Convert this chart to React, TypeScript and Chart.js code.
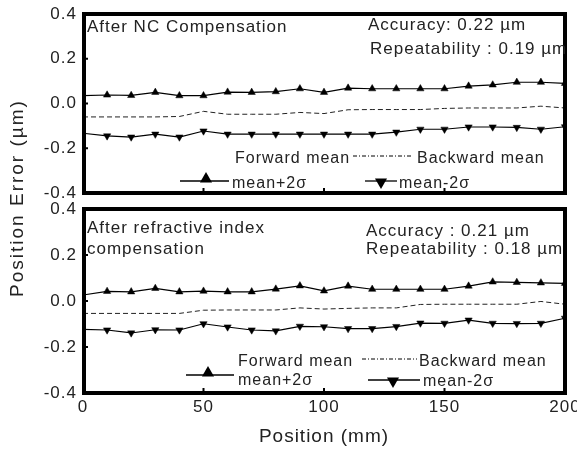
import React, { useEffect, useRef } from 'react';
import { Chart, registerables } from 'chart.js';

Chart.register(...registerables);

const FONT = "'Liberation Sans', Arial, Helvetica, sans-serif";

// Positions along the axis (mm)
const positions = [0, 10, 20, 30, 40, 50, 60, 70, 80, 90, 100, 110, 120, 130, 140, 150, 160, 170, 180, 190, 200];

// Panel 1: After NC Compensation (µm)
const ncUpper = [0.035, 0.038, 0.036, 0.05, 0.035, 0.035, 0.051, 0.05, 0.053, 0.066, 0.05, 0.069, 0.066, 0.066, 0.066, 0.066, 0.078, 0.083, 0.095, 0.095, 0.09];
const ncBackward = [-0.06, -0.06, -0.06, -0.06, -0.058, -0.035, -0.048, -0.048, -0.048, -0.04, -0.045, -0.028, -0.027, -0.027, -0.027, -0.022, -0.02, -0.02, -0.02, -0.012, -0.02];
const ncLower = [-0.133, -0.145, -0.15, -0.137, -0.15, -0.123, -0.137, -0.137, -0.137, -0.137, -0.137, -0.137, -0.137, -0.128, -0.115, -0.115, -0.105, -0.105, -0.107, -0.115, -0.104];

// Panel 2: After refractive index compensation (µm)
const riUpper = [0.026, 0.042, 0.04, 0.055, 0.04, 0.043, 0.04, 0.04, 0.052, 0.066, 0.044, 0.065, 0.051, 0.051, 0.051, 0.051, 0.065, 0.083, 0.081, 0.079, 0.077];
const riBackward = [-0.054, -0.054, -0.054, -0.054, -0.054, -0.04, -0.039, -0.039, -0.039, -0.03, -0.035, -0.032, -0.03, -0.03, -0.015, -0.014, -0.014, -0.014, -0.014, -0.002, -0.014];
const riLower = [-0.123, -0.126, -0.139, -0.125, -0.126, -0.099, -0.113, -0.126, -0.13, -0.11, -0.112, -0.12, -0.12, -0.111, -0.096, -0.097, -0.083, -0.097, -0.098, -0.097, -0.075];

const yRange = [-0.4, 0.4];
const yStep = 0.2;
const xRange = [0, 200];
const xStep = 50;
const innerYMarks = [-0.2, 0, 0.2];
const innerXMarks = [50, 100, 150];

const topTitle = 'After NC Compensation';
const topAccuracy = 'Accuracy: 0.22 µm';
const topRepeat = 'Repeatability : 0.19 µm';
const botTitle1 = 'After refractive index';
const botTitle2 = 'compensation';
const botAccuracy = 'Accuracy : 0.21 µm';
const botRepeat = 'Repeatability : 0.18 µm';
const legForward = 'Forward mean';
const legBackward = 'Backward mean';
const legUpper = 'mean+2σ';
const legLower = 'mean-2σ';
const xTitle = 'Position (mm)';
const yTitle = 'Position Error (µm)';

const toXY = (vals: number[]) => positions.map((x, i) => ({ x, y: vals[i] }));
const markerRadii = (r: number) => positions.map((_, i) => (i === 0 ? 0 : r));

function drawTri(ctx: CanvasRenderingContext2D, x: number, y: number, r: number, down: boolean) {
  const s = down ? -1 : 1;
  ctx.beginPath();
  ctx.moveTo(x, y - s * r);
  ctx.lineTo(x + r * 0.866, y + s * r * 0.5);
  ctx.lineTo(x - r * 0.866, y + s * r * 0.5);
  ctx.closePath();
  ctx.fillStyle = '#000';
  ctx.fill();
}

const decorPlugin = {
  id: 'panelDecor',
  beforeDraw(chart: any) {
    chart.ctx.letterSpacing = '1px';
  },
  afterDraw(chart: any, _args: any, opts: any) {
    const { ctx, chartArea: a, scales } = chart;
    ctx.save();
    ctx.letterSpacing = '1px';
    ctx.strokeStyle = '#000';
    ctx.lineWidth = 2;
    for (const v of innerYMarks) {
      const y = scales.y.getPixelForValue(v);
      ctx.beginPath();
      ctx.moveTo(a.left, y);
      ctx.lineTo(a.left + 5, y);
      ctx.stroke();
    }
    for (const v of innerXMarks) {
      const x = scales.x.getPixelForValue(v);
      ctx.beginPath();
      ctx.moveTo(x, a.bottom);
      ctx.lineTo(x, a.bottom - 5);
      ctx.stroke();
    }
    ctx.lineWidth = 4;
    ctx.strokeRect(a.left + 1, a.top, a.right - a.left - 1, a.bottom - a.top);

    ctx.textAlign = 'left';
    ctx.textBaseline = 'alphabetic';
    for (const t of opts.texts || []) {
      ctx.fillStyle = '#222';
      ctx.font = `${t.size}px ${FONT}`;
      ctx.fillText(t.text, t.x, t.y);
    }
    for (const s of opts.samples || []) {
      ctx.strokeStyle = '#000';
      ctx.lineWidth = s.dash ? 1 : 1.3;
      ctx.setLineDash(s.dash || []);
      ctx.beginPath();
      ctx.moveTo(s.x1, s.y);
      ctx.lineTo(s.x2, s.y);
      ctx.stroke();
      ctx.setLineDash([]);
      if (s.marker) drawTri(ctx, s.mx, s.my, s.r, s.marker === 'down');
    }
    ctx.restore();
  },
};

function makeDatasets(upper: number[], backward: number[], lower: number[]) {
  return [
    {
      label: legUpper,
      data: toXY(upper),
      borderColor: '#000',
      backgroundColor: '#000',
      borderWidth: 1.2,
      pointStyle: 'triangle',
      pointRadius: markerRadii(4.2),
      pointBorderWidth: 0.5,
      pointRotation: 0,
      tension: 0,
    },
    {
      label: legBackward,
      data: toXY(backward),
      borderColor: '#222',
      borderWidth: 1,
      borderDash: [5, 3],
      pointRadius: 0,
      tension: 0,
    },
    {
      label: legLower,
      data: toXY(lower),
      borderColor: '#000',
      backgroundColor: '#000',
      borderWidth: 1.2,
      pointStyle: 'triangle',
      pointRadius: markerRadii(4.2),
      pointBorderWidth: 0.5,
      pointRotation: 180,
      tension: 0,
    },
  ];
}

const fmtY = (v: any) => {
  const n = Number(v);
  return Math.abs(n) < 1e-9 ? '0.0' : n.toFixed(1);
};

function yScale() {
  return {
    min: yRange[0],
    max: yRange[1],
    ticks: { stepSize: yStep, callback: fmtY, font: { family: FONT, size: 17 }, color: '#222', padding: 6 },
    grid: { display: false, drawTicks: false },
    border: { display: false },
    afterFit: (s: any) => {
      s.width = 83;
      s.paddingTop = 0;
      s.paddingBottom = 0;
    },
  };
}

export default function App() {
  const topRef = useRef<HTMLCanvasElement>(null);
  const botRef = useRef<HTMLCanvasElement>(null);

  useEffect(() => {
    document.body.style.margin = '0';
    const top = new Chart(topRef.current as HTMLCanvasElement, {
      type: 'line',
      data: { datasets: makeDatasets(ncUpper, ncBackward, ncLower) as any },
      plugins: [decorPlugin as any],
      options: {
        animation: false,
        responsive: false,
        maintainAspectRatio: false,
        layout: { padding: { top: 14, right: 12, bottom: 12, left: 0 } },
        plugins: {
          legend: { display: false },
          tooltip: { enabled: false },
          panelDecor: {
            texts: [
              { text: topTitle, x: 87, y: 32, size: 17 },
              { text: topAccuracy, x: 368, y: 30, size: 17 },
              { text: topRepeat, x: 370, y: 54, size: 17 },
              { text: legForward, x: 235, y: 163, size: 16 },
              { text: legBackward, x: 417, y: 163, size: 16 },
              { text: legUpper, x: 232, y: 188, size: 16 },
              { text: legLower, x: 399, y: 188, size: 16 },
            ],
            samples: [
              { x1: 353, x2: 411, y: 156, dash: [4, 2, 1, 2] },
              { x1: 180, x2: 229, y: 181, marker: 'up', mx: 206, my: 179, r: 7 },
              { x1: 365, x2: 397, y: 181, marker: 'down', mx: 381, my: 182, r: 7 },
            ],
          },
        } as any,
        scales: {
          x: { type: 'linear', min: xRange[0], max: xRange[1], display: false },
          y: yScale() as any,
        },
      },
    });
    const bot = new Chart(botRef.current as HTMLCanvasElement, {
      type: 'line',
      data: { datasets: makeDatasets(riUpper, riBackward, riLower) as any },
      plugins: [decorPlugin as any],
      options: {
        animation: false,
        responsive: false,
        maintainAspectRatio: false,
        layout: { padding: { top: 14, right: 12, bottom: 0, left: 0 } },
        plugins: {
          legend: { display: false },
          tooltip: { enabled: false },
          panelDecor: {
            texts: [
              { text: botTitle1, x: 87, y: 38, size: 17 },
              { text: botTitle2, x: 87, y: 59, size: 17 },
              { text: botAccuracy, x: 366, y: 41, size: 17 },
              { text: botRepeat, x: 366, y: 59, size: 17 },
              { text: legForward, x: 238, y: 171, size: 16 },
              { text: legBackward, x: 419, y: 171, size: 16 },
              { text: legUpper, x: 238, y: 190, size: 16 },
              { text: legLower, x: 423, y: 191, size: 16 },
            ],
            samples: [
              { x1: 362, x2: 417, y: 164, dash: [4, 2, 1, 2] },
              { x1: 186, x2: 234, y: 180, marker: 'up', mx: 208, my: 178, r: 7 },
              { x1: 368, x2: 420, y: 185, marker: 'down', mx: 393, my: 186, r: 7 },
            ],
          },
        } as any,
        scales: {
          x: {
            type: 'linear',
            min: xRange[0],
            max: xRange[1],
            ticks: { stepSize: xStep, font: { family: FONT, size: 17 }, color: '#222', padding: 4 },
            grid: { display: false, drawTicks: false },
            border: { display: false },
            title: { display: true, text: xTitle, font: { family: FONT, size: 19 }, color: '#222', padding: { top: 0, bottom: 2 } },
            afterFit: (s: any) => {
              s.height = 57;
              s.paddingLeft = 0;
              s.paddingRight = 0;
            },
          } as any,
          y: yScale() as any,
        },
      },
    });
    return () => {
      top.destroy();
      bot.destroy();
    };
  }, []);

  return (
    <div style={{ position: 'absolute', left: 0, top: 0, width: 577, height: 450, background: '#fff', overflow: 'hidden' }}>
      <canvas ref={topRef} width={577} height={205} style={{ position: 'absolute', left: 0, top: 0, width: 577, height: 205 }} />
      <canvas ref={botRef} width={577} height={255} style={{ position: 'absolute', left: 0, top: 195, width: 577, height: 255 }} />
      <div
        style={{
          position: 'absolute',
          left: 18 - 150,
          top: 198 - 12,
          width: 300,
          height: 24,
          lineHeight: '24px',
          textAlign: 'center',
          transform: 'rotate(-90deg)',
          font: `19px ${FONT}`,
          letterSpacing: '2px',
          color: '#222',
          whiteSpace: 'nowrap',
        }}
      >
        {yTitle}
      </div>
    </div>
  );
}
